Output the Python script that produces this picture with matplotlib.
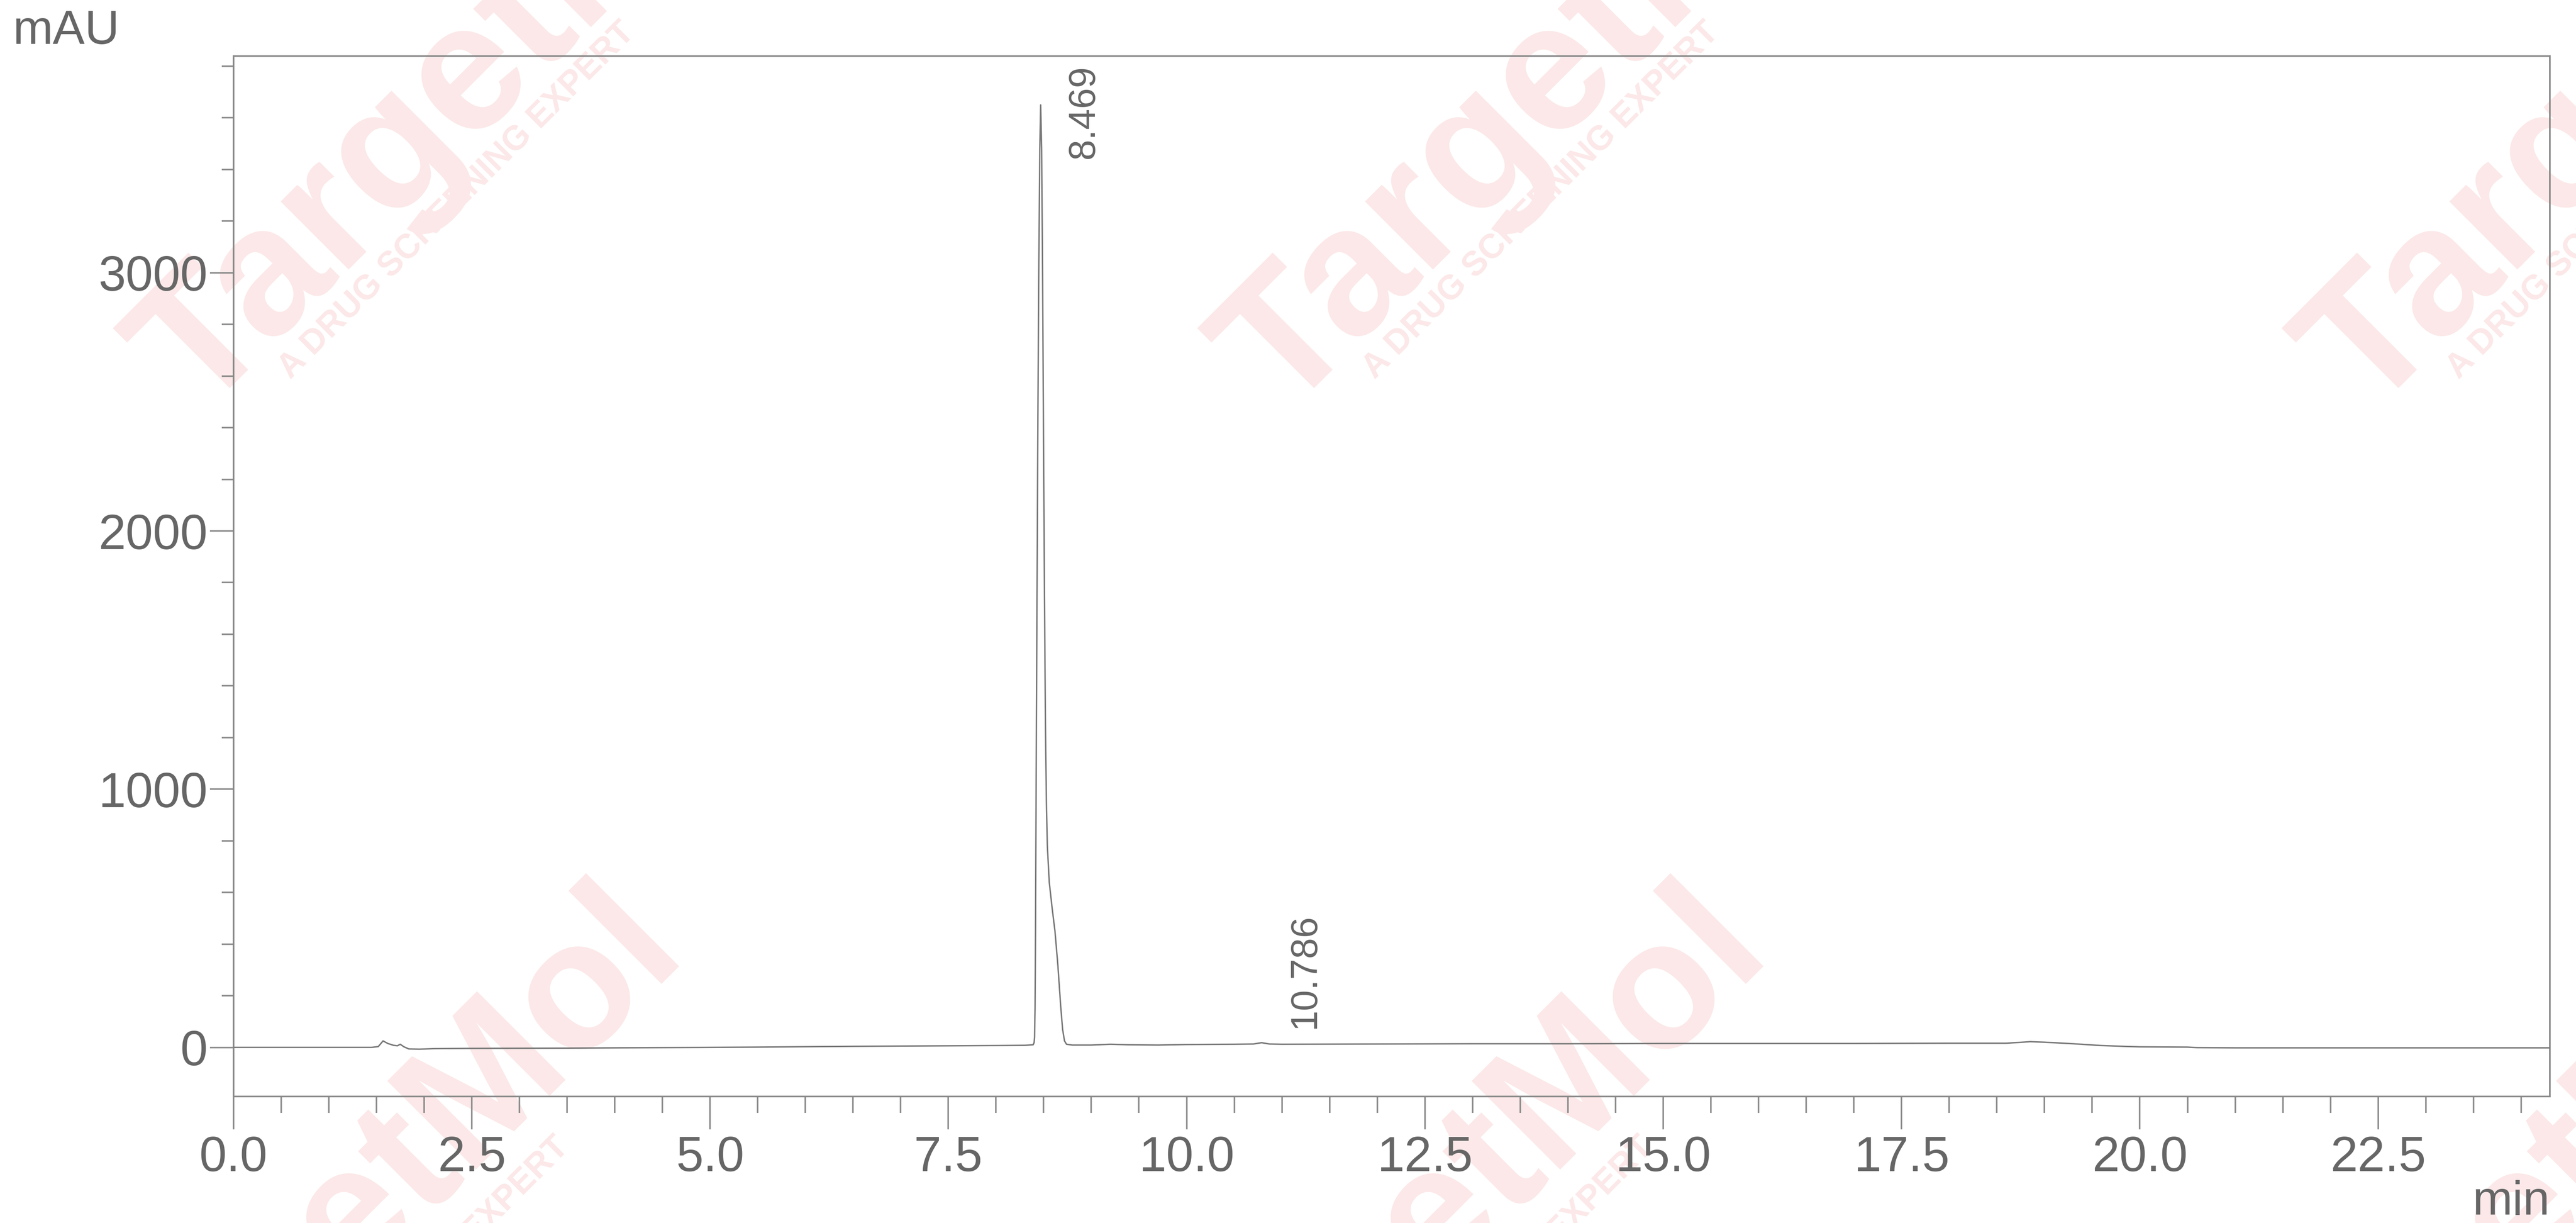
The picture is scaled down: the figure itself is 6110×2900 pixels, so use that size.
import numpy as np
import matplotlib
matplotlib.use("Agg")
import matplotlib.pyplot as plt
from matplotlib.ticker import MultipleLocator, FormatStrFormatter

plt.rcParams['font.family'] = ['Liberation Sans', 'DejaVu Sans']

# ---- data ----
time_min = [0.0, 1.45, 1.52, 1.57, 1.62, 1.68, 1.72, 1.75, 1.79, 1.84, 1.95, 2.10,
            2.5, 3.5, 4.5, 5.5, 6.5, 7.0, 7.5, 8.0, 8.30, 8.39,
            8.40, 8.405, 8.41, 8.415, 8.42, 8.43, 8.44, 8.45, 8.46, 8.469,
            8.479, 8.489, 8.499, 8.509, 8.519, 8.529, 8.539, 8.559, 8.589,
            8.619, 8.649, 8.679, 8.699, 8.719, 8.74, 8.80,
            9.0, 9.2, 9.4, 9.7, 10.0, 10.5, 10.70, 10.786, 10.87, 11.0,
            12.0, 13.0, 14.0, 15.0, 16.0, 17.0, 18.0, 18.6, 18.85, 19.0,
            19.3, 19.6, 19.9, 20.0, 20.5, 20.6, 21.0, 22.0, 23.0, 24.3]
signal_mau = [0, 0, 3, 25, 15, 8, 6, 12, 2, -6, -7, -5,
              -4, -3, -1, 1, 4, 5, 6, 7, 8, 10,
              18, 40, 150, 450, 900, 1700, 2450, 3050, 3480, 3650,
              3480, 3000, 2350, 1750, 1250, 950, 780, 640, 540,
              450, 320, 160, 70, 25, 12, 9,
              9, 12, 10, 9, 11, 12, 13, 18, 13, 12,
              13, 14, 14, 15, 15, 15, 16, 16, 22, 20,
              14, 7, 3, 2, 1, -1, -2, -2, -2, -2]

peak_rt = [8.469, 10.786]
peak_height = [3650, 18]

x_major = [0.0, 2.5, 5.0, 7.5, 10.0, 12.5, 15.0, 17.5, 20.0, 22.5]
y_major = [0, 1000, 2000, 3000]

watermark_main = 'TargetMol'
watermark_sub = 'A DRUG SCREENING EXPERT'

# ---- styling ----
TXT = '#666666'
AXC = '#8a8a8a'
LINE = '#777777'
WM = '#fce8e8'

fig = plt.figure(figsize=(30.55, 14.5), dpi=200, facecolor='white')

# faint watermark tiles, behind the plot
wm_main_pos = [(285, 50), (945, 50), (1605, 50), (215, 745), (875, 745), (1535, 745)]
wm_sub_pos = [(278, 122), (938, 122), (1598, 122), (238, 800), (898, 800), (1558, 800)]
for (x, y) in wm_main_pos:
    fig.text(x / 1568, 1 - y / 744, watermark_main, rotation=45, ha='center', va='center',
             fontsize=155, fontweight='bold', color=WM, zorder=-5)
for (x, y) in wm_sub_pos:
    fig.text(x / 1568, 1 - y / 744, watermark_sub, rotation=45, ha='center',
             va='center', fontsize=29, fontweight='bold', color=WM, zorder=-5)

ax = fig.add_axes([0.0906, 0.1035, 0.8992, 0.8508])
ax.set_facecolor('none')
ax.plot(time_min, signal_mau, color=LINE, lw=1.2, zorder=3)

xmax, ymin, ymax = 24.3, -190, 3840
ax.set_xlim(0, xmax)
ax.set_ylim(ymin, ymax)

ax.set_xticks(x_major)
ax.set_yticks(y_major)
ax.xaxis.set_major_formatter(FormatStrFormatter('%.1f'))
ax.xaxis.set_minor_locator(MultipleLocator(0.5))
ax.yaxis.set_minor_locator(MultipleLocator(200))

for s in ax.spines.values():
    s.set_color(AXC)
    s.set_linewidth(1.4)

ax.tick_params(axis='x', which='major', direction='out', length=28, width=1.3,
               color=AXC, labelsize=42, labelcolor=TXT, pad=5)
ax.tick_params(axis='x', which='minor', direction='out', length=14, width=1.3, color=AXC)
ax.tick_params(axis='y', which='major', direction='out', length=20, width=1.3,
               color=AXC, labelsize=42, labelcolor=TXT, pad=2)
ax.tick_params(axis='y', which='minor', direction='out', length=10, width=1.3, color=AXC)

for rt, h in zip(peak_rt, peak_height):
    ylab = min(h + 55, ymax - 400)
    ax.text(rt + 0.27, ylab, f'{rt:.3f}', rotation=90, ha='left', va='bottom',
            fontsize=32, color=TXT, zorder=4)

fig.text(0.005, 0.974, 'mAU', ha='left', va='center', fontsize=41, color=TXT)
fig.text(0.9898, 0.017, 'min', ha='right', va='center', fontsize=41, color=TXT)

fig.savefig('out.png', dpi=200, facecolor='white')
